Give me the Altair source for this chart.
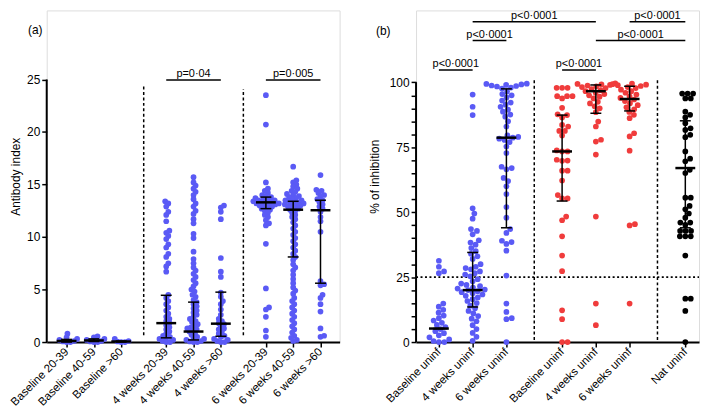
import math
import altair as alt
import pandas as pd

FONT = "Liberation Sans"
BLUE = "#5a5af5"
RED = "#f03c3c"
BLACK = "#000000"
GAP = 0.65  # extra spacing (in category units) between blocks

# ---------------- panel (a): antibody index ----------------
A_GROUPS = ["Baseline 20-39", "Baseline 40-59", "Baseline >60",
            "4 weeks 20-39", "4 weeks 40-59", "4 weeks >60",
            "6 weeks 20-39", "6 weeks 40-59", "6 weeks >60"]
A_BLOCK = [0, 0, 0, 1, 1, 1, 2, 2, 2]

a_base_20 = [0.8, 0.45, 0.3, 0.2, 0.1, 0.05, 0.0, 0.0]
a_base_40 = [0.55, 0.45, 0.3, 0.2, 0.1, 0.05, 0.0, 0.0]
a_base_60 = [0.3, 0.1, 0.05, 0.0, 0.0]
a_4w_20 = [13.4, 13.2, 12.9, 12.4, 12.1, 11.5, 10.6, 10.4, 10.1, 9.8, 9.3, 9.0, 8.4, 8.1,
           7.5, 7.2, 6.7, 4.5, 4.2, 3.9, 3.6, 3.3, 3.0, 2.7, 2.4, 2.2, 2.0, 1.8, 1.6, 1.4,
           1.2, 1.0, 0.8, 0.6, 0.5, 0.4, 0.3, 0.2, 0.1, 0.0, 0.0]
a_4w_40 = [15.7, 15.2, 14.9, 14.6, 14.3, 14.0, 13.6, 13.2, 12.9, 12.5, 12.2, 11.7, 11.3,
           10.3, 9.9, 8.6, 7.9, 7.5, 7.1, 6.8, 6.5, 6.2, 5.9, 5.6, 5.3, 5.0, 4.8, 4.5, 4.3,
           4.0, 3.8, 3.6, 3.4, 3.2, 3.0, 2.8, 2.6, 2.4, 2.2, 2.0, 1.9, 1.7, 1.6, 1.4, 1.3,
           1.2, 1.1, 1.0, 0.8, 0.7, 0.5, 0.4, 0.3, 0.2, 0.1, 0.05, 0.0, 0.0]
a_4w_60 = [13.0, 12.8, 12.4, 11.7, 8.0, 6.7, 6.2, 4.7, 4.3, 3.9, 3.6, 3.1, 2.6, 2.2, 2.0,
           1.8, 1.7, 1.5, 1.3, 1.2, 1.0, 0.8, 0.6, 0.5, 0.3, 0.2, 0.1, 0.0, 0.0]
a_6w_20 = [23.5, 20.7, 15.2, 14.6, 14.4, 14.2, 14.0, 13.9, 13.8, 13.7, 13.6, 13.6, 13.5,
           13.5, 13.4, 13.4, 13.3, 13.3, 13.2, 13.2, 13.1, 13.1, 13.0, 13.0, 12.9, 12.8,
           12.7, 12.6, 12.5, 12.3, 12.1, 11.9, 11.6, 11.3, 11.1, 9.35, 5.1, 3.3, 3.1, 2.4,
           1.1, 0.5]
a_6w_40 = [16.7, 15.4, 15.2, 15.0, 14.8, 14.6, 14.4, 14.3, 14.1, 14.0, 13.9, 13.8, 13.7,
           13.6, 13.5, 13.5, 13.4, 13.3, 13.3, 13.2, 13.1, 13.1, 13.0, 13.0, 12.9, 12.8,
           12.7, 12.6, 12.5, 12.3, 12.1, 11.9, 11.7, 11.4, 11.1, 10.8, 10.5, 10.2, 9.9, 9.6,
           9.3, 9.0, 8.7, 8.4, 8.1, 7.8, 7.4, 7.1, 6.8, 6.4, 6.0, 5.6, 5.2, 4.9, 4.6, 4.2,
           3.9, 3.6, 3.3, 3.0, 2.7, 2.4, 2.1, 1.8, 1.5, 1.2, 0.9, 0.6, 0.4, 0.2, 0.1]
a_6w_60 = [15.9, 14.5, 14.4, 14.2, 14.0, 13.9, 13.6, 13.5, 13.3, 13.1, 12.9, 12.7, 12.4,
           11.9, 11.5, 10.5, 5.8, 5.5, 5.4, 4.5, 4.2, 3.6, 2.9, 1.3, 0.6, 0.5]
A_VALUES = [a_base_20, a_base_40, a_base_60, a_4w_20, a_4w_40, a_4w_60,
            a_6w_20, a_6w_40, a_6w_60]
A_MEDIAN = [0.1, 0.15, 0.05, 1.8, 1.0, 1.75, 13.3, 12.6, 12.55]
A_Q1 = [0.0, 0.05, 0.0, 0.4, 0.2, 0.55, 12.7, 8.1, 5.6]
A_Q3 = [0.25, 0.3, 0.1, 4.45, 3.8, 4.75, 13.8, 13.4, 13.5]
A_COHORT = ["Vaccinated"] * 9
A_YTICKS = [0, 5, 10, 15, 20, 25]
A_SIG = [(3, 5, "p=0·04", 24.95), (6, 8, "p=0·005", 24.95)]
A_DIV_TOP = [24.5, 24.1]

# ---------------- panel (b): % of inhibition ----------------
B_GROUPS = ["Baseline uninf", "4 weeks uninf", "6 weeks uninf",
            "Baseline uninf", "4 weeks uninf", "6 weeks uninf", "Nat uninf"]
B_BLOCK = [0, 0, 0, 1, 1, 1, 2]
B_COHORT = ["Cohort 1", "Cohort 1", "Cohort 1", "Cohort 2", "Cohort 2", "Cohort 2",
            "Natural"]

b_base_1 = [31.3, 29.0, 27.2, 26.5, 14.8, 13.6, 12.4, 11.3, 10.2, 9.2, 8.3, 7.4, 6.6,
            5.8, 5.0, 4.2, 3.4, 2.6, 1.8, 1.0, 0.4, 0.0, 0.0]
b_4w_1 = [95.3, 90.6, 87.4, 51.5, 49.5, 47.5, 43.5, 42.8, 41.5, 39.2, 38.3, 37.5, 36.2,
          35.0, 34.0, 33.0, 32.0, 30.0, 29.0, 28.5, 28.0, 27.2, 26.5, 26.0, 25.3, 24.2,
          23.4, 22.5, 22.0, 21.5, 21.0, 20.6, 20.2, 20.0, 19.6, 19.2, 18.8, 18.3, 17.8,
          17.2, 16.5, 15.8, 15.0, 14.0, 13.0, 12.0, 11.0, 10.0, 9.0, 8.0, 6.5, 5.0, 3.5,
          2.0, 0.5]
b_6w_1 = [99.5, 99.4, 99.2, 99.0, 98.8, 98.6, 98.4, 98.0, 97.6, 96.5, 95.5, 95.0, 94.2,
          93.0, 92.2, 91.4, 90.6, 89.5, 88.7, 87.6, 86.8, 85.0, 83.0, 79.6, 79.0, 78.7,
          78.3, 77.8, 77.0, 75.3, 72.8, 67.5, 67.0, 66.5, 63.2, 62.0, 60.0, 57.0, 52.0,
          47.9, 43.5, 42.0, 39.0, 38.5, 37.8, 35.2, 25.6, 14.8, 11.6, 9.2, 8.8, 0.0]
b_base_2 = [97.9, 97.9, 97.9, 94.7, 94.7, 94.7, 93.8, 90.2, 87.7, 87.4, 86.5, 83.6, 83.0,
            81.3, 81.3, 79.5, 73.8, 73.4, 73.4, 70.2, 69.9, 69.8, 66.0, 66.0, 62.2, 56.6,
            55.3, 55.3, 48.3, 46.9, 40.7, 33.3, 27.3, 12.2, 8.8, 0.0, 0.0]
b_4w_2 = [99.6, 99.4, 99.2, 99.0, 98.8, 98.5, 98.2, 97.8, 97.4, 97.0, 96.6, 96.0, 95.5,
          95.0, 94.5, 93.8, 92.5, 91.9, 90.8, 90.0, 88.5, 84.9, 83.0, 77.9, 77.2, 72.2,
          48.3, 14.8, 6.5]
b_6w_2 = [99.5, 99.3, 99.1, 98.9, 98.6, 98.2, 97.8, 97.2, 96.6, 96.0, 95.3, 94.6, 94.0,
          93.4, 92.8, 92.0, 91.2, 90.4, 89.6, 88.6, 87.5, 86.2, 80.4, 79.2, 73.7, 45.4,
          44.9, 14.8]
b_nat = [95.7, 95.7, 95.7, 93.8, 93.8, 88.7, 87.5, 86.5, 84.3, 82.3, 81.7, 79.8, 78.9,
         73.4, 70.6, 69.6, 66.3, 65.1, 55.6, 55.6, 52.4, 51.1, 49.5, 47.9, 46.0, 46.0,
         45.1, 42.8, 42.8, 42.8, 40.7, 40.7, 40.7, 33.3, 16.7, 16.7, 12.0, 0.0]
B_VALUES = [b_base_1, b_4w_1, b_6w_1, b_base_2, b_4w_2, b_6w_2, b_nat]
B_MEDIAN = [5.2, 20.0, 78.7, 73.4, 96.6, 93.6, 67.0]
B_Q1 = [5.2, 13.5, 44.0, 54.3, 88.1, 89.0, 44.0]
B_Q3 = [5.2, 34.5, 97.5, 87.4, 99.0, 98.5, 85.2]
B_YTICKS = list(range(0, 101, 5))
B_SIG = [(0, 1, "p<0·0001", 104.8), (3, 4, "p<0·0001", 104.8),
         (1, 2, "p<0·0001", 116.1), (4, 6, "p<0·0001", 116.1),
         (1, 4, "p<0·0001", 123.3), (5, 6, "p<0·0001", 123.3)]
B_DIV_TOP = [101.3, 101.3]
B_THRESHOLD = 25

COHORT_DOMAIN = ["Vaccinated", "Cohort 1", "Cohort 2", "Natural"]
COHORT_RANGE = [BLUE, BLUE, RED, BLACK]

H = 334


def swarm(values, unit_px, d):
    """Simple beeswarm: horizontal pixel offsets so dots do not pile up."""
    placed, out = [], [0.0] * len(values)
    for i in sorted(range(len(values)), key=lambda k: values[k]):
        y = values[i] * unit_px
        iv = []
        for px, py in placed:
            dy = abs(py - y)
            if dy < d:
                w = math.sqrt(d * d - dy * dy)
                iv.append((px - w, px + w))
        cands = [0.0] + [a for a, _ in iv] + [b for _, b in iv]
        cands.sort(key=lambda c: (round(abs(c), 6), -c))
        x = 0.0
        for c in cands:
            if all(not (a + 1e-9 < c < b - 1e-9) for a, b in iv):
                x = c
                break
        placed.append((x, y))
        out[i] = x
    return out


def label_expr(pos, names):
    expr = "''"
    for p, n in reversed(list(zip(pos, names))):
        expr = f"abs(datum.value - {p}) < 0.01 ? '{n}' : ({expr})"
    return expr


def panel(groups, blocks, values, med, q1, q3, cohorts, width, x_ppu, x_left_px,
          y_max, y_ticks, y_label_every, y_title, title_pad, sig, div_top, div_bottom,
          tag, tag_x, tag_y, swarm_d, threshold=None):
    pos = [i + GAP * b for i, b in enumerate(blocks)]
    x_dom = [-x_left_px / x_ppu, (width - x_left_px) / x_ppu]
    y_ppu = H / y_max
    xs = alt.Scale(domain=x_dom, nice=False, zero=False)
    ys = alt.Scale(domain=[0, y_max], nice=False, zero=False)

    rows = []
    for i, vals in enumerate(values):
        offs = swarm(vals, y_ppu, swarm_d)
        for v, o in zip(vals, offs):
            rows.append({"x": pos[i] + o / x_ppu, "value": v, "cohort": cohorts[i]})
    pts_df = pd.DataFrame(rows)
    stats = pd.DataFrame({"x": pos, "median": med, "q1": q1, "q3": q3})

    divs = []
    for k in range(1, max(blocks) + 1):
        last = max(p for p, b in zip(pos, blocks) if b == k - 1)
        first = min(p for p, b in zip(pos, blocks) if b == k)
        divs.append({"x": (last + first) / 2, "lo": div_bottom, "hi": div_top[k - 1]})
    div_df = pd.DataFrame(divs)

    sig_df = pd.DataFrame([{"x1": pos[a], "x2": pos[b], "xm": (pos[a] + pos[b]) / 2,
                            "level": lv, "label": t} for a, b, t, lv in sig])

    x_axis = alt.Axis(values=pos, labelExpr=label_expr(pos, groups), labelAngle=-45,
                      labelAlign="right", labelBaseline="middle", labelFontSize=11.5,
                      labelFont=FONT, labelColor="black", labelPadding=3,
                      labelOverlap=False, labelFlush=False, tickSize=5, tickWidth=1.5,
                      tickColor="black", domainColor="black", domainWidth=2,
                      grid=False, title=None)
    y_axis = alt.Axis(values=y_ticks,
                      labelExpr=f"datum.value % {y_label_every} === 0 ? datum.label : ''",
                      domain=False, tickSize=5, tickWidth=1.5, tickColor="black",
                      labelFontSize=12, labelFont=FONT, labelColor="black",
                      labelPadding=2, grid=False, title=y_title, titleFontSize=12,
                      titleFont=FONT, titleFontWeight="normal", titleColor="black",
                      titlePadding=title_pad)

    X = lambda f: alt.X(f, type="quantitative", scale=xs, axis=x_axis)
    Y = lambda f: alt.Y(f, type="quantitative", scale=ys, axis=y_axis)

    layers = []
    layers.append(alt.Chart(div_df).mark_rule(color="black", strokeWidth=1.5,
                                              strokeDash=[3, 2.5])
                  .encode(x=X("x"), y=Y("lo"), y2="hi"))
    if threshold is not None:
        layers.append(alt.Chart(pd.DataFrame({"t": [threshold]}))
                      .mark_rule(color="black", strokeWidth=2, strokeDash=[2, 2.5])
                      .encode(x=alt.value(0), x2=alt.value(width), y=Y("t")))
    layers.append(alt.Chart(pts_df).mark_circle(size=33, opacity=1)
                  .encode(x=X("x"), y=Y("value"),
                          color=alt.Color("cohort:N", legend=None,
                                          scale=alt.Scale(domain=COHORT_DOMAIN,
                                                          range=COHORT_RANGE))))
    layers.append(alt.Chart(stats).mark_rule(color="black", strokeWidth=1.5)
                  .encode(x=X("x"), y=Y("q1"), y2="q3"))
    for fld, size, th in [("q1", 11, 1.5), ("q3", 11, 1.5), ("median", 20, 2.5)]:
        layers.append(alt.Chart(stats).mark_tick(orient="horizontal", size=size,
                                                 thickness=th, color="black", opacity=1)
                      .encode(x=X("x"), y=Y(fld)))
    layers.append(alt.Chart(pd.DataFrame({"lo": [0], "hi": [y_ticks[-1]]}))
                  .mark_rule(color="black", strokeWidth=2)
                  .encode(x=alt.value(0), y=Y("lo"), y2="hi"))
    layers.append(alt.Chart(sig_df).mark_rule(color="black", strokeWidth=1.5)
                  .encode(x=X("x1"), x2="x2", y=Y("level")))
    layers.append(alt.Chart(sig_df).mark_text(fontSize=11, font=FONT, color="black",
                                              baseline="alphabetic", dy=-3)
                  .encode(x=X("xm"), y=Y("level"), text="label:N"))
    layers.append(alt.Chart(pd.DataFrame({"t": [tag]}))
                  .mark_text(fontSize=12, font=FONT, color="black", baseline="middle")
                  .encode(x=alt.value(tag_x), y=alt.value(tag_y), text="t:N"))
    return alt.layer(*layers).properties(width=width, height=H)


panel_a = panel(A_GROUPS, A_BLOCK, A_VALUES, A_MEDIAN, A_Q1, A_Q3, A_COHORT,
                width=295, x_ppu=27.5, x_left_px=20, y_max=31.57, y_ticks=A_YTICKS,
                y_label_every=5, y_title="Antibody index", title_pad=4, sig=A_SIG,
                div_top=A_DIV_TOP, div_bottom=0.65, tag="(a)", tag_x=-11.5, tag_y=20,
                swarm_d=3.8)
panel_b = panel(B_GROUPS, B_BLOCK, B_VALUES, B_MEDIAN, B_Q1, B_Q3, B_COHORT,
                width=285, x_ppu=34, x_left_px=23, y_max=127.7, y_ticks=B_YTICKS,
                y_label_every=25, y_title="% of inhibition", title_pad=8, sig=B_SIG,
                div_top=B_DIV_TOP, div_bottom=0.8, tag="(b)", tag_x=-33, tag_y=21,
                swarm_d=5.5, threshold=B_THRESHOLD)

chart = (alt.hconcat(panel_a, panel_b, spacing=77, bounds="flush")
         .properties(padding={"left": 0, "top": 0, "right": 0, "bottom": 0})
         .configure_view(strokeWidth=0)
         .configure(font=FONT))

chart.save("out.html", embed_options={"renderer": "svg", "actions": False})
